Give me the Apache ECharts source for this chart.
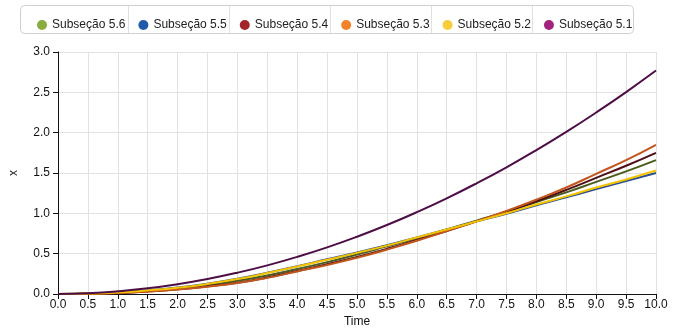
<!DOCTYPE html>
<html>
<head>
<meta charset="utf-8">
<script src="https://cdn.jsdelivr.net/npm/echarts@6/dist/echarts.min.js"></script>
<style>
html,body{margin:0;padding:0;background:#fff;}
#chart{width:676px;height:329px;}
</style>
</head>
<body>
<div id="chart"></div>
<script>
const times = [0,0.5,1,1.5,2,2.5,3,3.5,4,4.5,5,5.5,6,6.5,7,7.5,8,8.5,9,9.5,10];
const seriesNames = ['Subseção 5.6','Subseção 5.5','Subseção 5.4','Subseção 5.3','Subseção 5.2','Subseção 5.1'];
const s56 = [0,0.004,0.016,0.038,0.068,0.11,0.165,0.23,0.31,0.395,0.49,0.59,0.69,0.80,0.91,1.02,1.14,1.26,1.39,1.52,1.66];
const s55 = [0,0.005,0.02,0.046,0.08,0.128,0.19,0.265,0.345,0.43,0.515,0.605,0.70,0.80,0.90,0.995,1.10,1.20,1.30,1.40,1.50];
const s54 = [0,0.003,0.013,0.032,0.058,0.095,0.14,0.205,0.285,0.37,0.46,0.56,0.67,0.78,0.90,1.02,1.15,1.29,1.44,1.59,1.75];
const s53 = [0,0.003,0.012,0.03,0.055,0.09,0.135,0.20,0.28,0.36,0.45,0.55,0.66,0.78,0.90,1.03,1.17,1.32,1.49,1.66,1.85];
const s52 = [0,0.005,0.02,0.045,0.078,0.125,0.185,0.26,0.34,0.425,0.51,0.60,0.70,0.80,0.90,1.00,1.11,1.21,1.32,1.42,1.53];
const s51 = [0,0.010,0.034,0.071,0.122,0.186,0.264,0.355,0.46,0.578,0.71,0.855,1.014,1.186,1.372,1.571,1.784,2.010,2.250,2.503,2.77];
const allValues = [s56,s55,s54,s53,s52,s51];
const legendColors = ['#8aab3f','#1f5aa8','#a3242b','#f3832a','#f9cd3a','#a1237d'];
const lineColors = ['#4b5c1d','#2a4f92','#4c1016','#c2561e','#f5c400','#4d0e45'];

const chart = echarts.init(document.getElementById('chart'), null, {renderer:'canvas'});
const font = 'Liberation Sans, Arial, sans-serif';
const series = seriesNames.map((n,i)=>({
  name:n, type:'line', smooth:true, showSymbol:false, symbol:'circle',
  data: times.map((t,j)=>[t, allValues[i][j]]),
  itemStyle:{color:legendColors[i]},
  lineStyle:{color:lineColors[i], width:2},
  emphasis:{disabled:true}
}));
const sepX = [128,229,330,431,532];
const graphics = [{type:'rect', shape:{x:20.5,y:5.5,width:613,height:28,r:4}, style:{fill:'#fff',stroke:'#d0d0d0',lineWidth:1}, z:-1}];
sepX.forEach(x=>graphics.push({type:'line', shape:{x1:x+0.5,y1:6,x2:x+0.5,y2:33}, style:{stroke:'#e0e0e0',lineWidth:1}, z:-1}));
chart.setOption({
  animation:false,
  textStyle:{fontFamily:font},
  graphic:graphics,
  legend:{
    data:seriesNames, left:32, top:14, width:640, icon:'circle', itemWidth:10, itemHeight:10, itemGap:13,
    textStyle:{fontSize:12, color:'#222', fontFamily:font}
  },
  grid:{left:58, right:20, top:52, bottom:35, containLabel:false, outerBoundsMode:'none'},
  xAxis:{
    type:'value', min:0, max:10, interval:0.5,
    name:'Time', nameLocation:'middle', nameGap:21,
    nameTextStyle:{fontSize:12, color:'#111'},
    axisLine:{lineStyle:{color:'#111', width:1}},
    axisTick:{show:true, length:5, lineStyle:{color:'#111'}},
    axisLabel:{color:'#111', fontSize:12, margin:5, formatter:v=>v.toFixed(1)},
    splitLine:{show:true, lineStyle:{color:'#e2e2e2'}}
  },
  yAxis:{
    type:'value', min:0, max:3, interval:0.5,
    name:'x', nameLocation:'middle', nameGap:38,
    nameTextStyle:{fontSize:12, color:'#111'},
    axisLine:{show:true, lineStyle:{color:'#111', width:1}},
    axisTick:{show:true, length:5, lineStyle:{color:'#111'}},
    axisLabel:{color:'#111', fontSize:12, margin:8, formatter:v=>v.toFixed(1)},
    splitLine:{show:true, lineStyle:{color:'#e2e2e2'}}
  },
  series:series
});
</script>
</body>
</html>
